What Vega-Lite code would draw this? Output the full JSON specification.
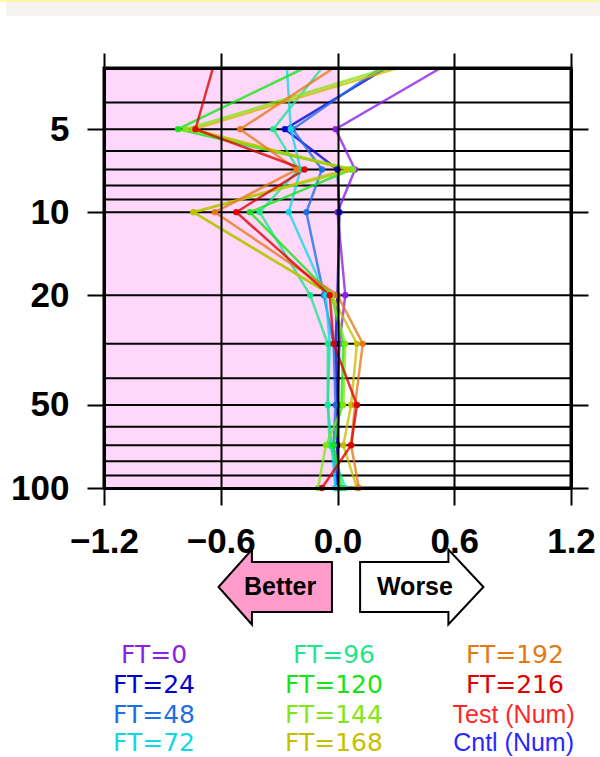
{
  "$schema": "https://vega.github.io/schema/vega-lite/v6.json",
  "width": 467,
  "height": 420,
  "autosize": {"type": "none"},
  "padding": {"left": 104, "top": 68, "right": 29, "bottom": 269},
  "background": "white",
  "config": {"view": {"stroke": "black", "strokeWidth": 3}},
  "resolve": {"axis": {"x": "independent", "y": "independent"}},
  "datasets": {
    "series": [
      {"ft": "FT=0", "p": 3, "v": 0.53}, {"ft": "FT=0", "p": 5, "v": -0.01}, {"ft": "FT=0", "p": 7, "v": 0.09}, {"ft": "FT=0", "p": 10, "v": 0.0}, {"ft": "FT=0", "p": 20, "v": 0.04}, {"ft": "FT=0", "p": 30, "v": 0.01}, {"ft": "FT=0", "p": 50, "v": 0.0}, {"ft": "FT=0", "p": 70, "v": 0.0}, {"ft": "FT=0", "p": 100, "v": 0.0},
      {"ft": "FT=24", "p": 3, "v": 0.25}, {"ft": "FT=24", "p": 5, "v": -0.27}, {"ft": "FT=24", "p": 7, "v": 0.0}, {"ft": "FT=24", "p": 10, "v": 0.01}, {"ft": "FT=24", "p": 20, "v": 0.0}, {"ft": "FT=24", "p": 30, "v": -0.01}, {"ft": "FT=24", "p": 50, "v": 0.0}, {"ft": "FT=24", "p": 70, "v": 0.0}, {"ft": "FT=24", "p": 100, "v": 0.0},
      {"ft": "FT=48", "p": 3, "v": 0.22}, {"ft": "FT=48", "p": 5, "v": -0.23}, {"ft": "FT=48", "p": 7, "v": -0.08}, {"ft": "FT=48", "p": 10, "v": -0.16}, {"ft": "FT=48", "p": 20, "v": -0.07}, {"ft": "FT=48", "p": 30, "v": -0.02}, {"ft": "FT=48", "p": 50, "v": -0.01}, {"ft": "FT=48", "p": 70, "v": -0.02}, {"ft": "FT=48", "p": 100, "v": -0.01},
      {"ft": "FT=72", "p": 3, "v": -0.26}, {"ft": "FT=72", "p": 5, "v": -0.24}, {"ft": "FT=72", "p": 7, "v": -0.19}, {"ft": "FT=72", "p": 10, "v": -0.25}, {"ft": "FT=72", "p": 20, "v": -0.06}, {"ft": "FT=72", "p": 30, "v": -0.04}, {"ft": "FT=72", "p": 50, "v": -0.05}, {"ft": "FT=72", "p": 70, "v": -0.03}, {"ft": "FT=72", "p": 100, "v": -0.01},
      {"ft": "FT=96", "p": 3, "v": -0.08}, {"ft": "FT=96", "p": 5, "v": -0.33}, {"ft": "FT=96", "p": 7, "v": -0.2}, {"ft": "FT=96", "p": 10, "v": -0.4}, {"ft": "FT=96", "p": 20, "v": -0.14}, {"ft": "FT=96", "p": 30, "v": -0.05}, {"ft": "FT=96", "p": 50, "v": -0.05}, {"ft": "FT=96", "p": 70, "v": -0.04}, {"ft": "FT=96", "p": 100, "v": 0.04},
      {"ft": "FT=120", "p": 3, "v": -0.17}, {"ft": "FT=120", "p": 5, "v": -0.82}, {"ft": "FT=120", "p": 7, "v": 0.07}, {"ft": "FT=120", "p": 10, "v": -0.45}, {"ft": "FT=120", "p": 20, "v": -0.03}, {"ft": "FT=120", "p": 30, "v": 0.03}, {"ft": "FT=120", "p": 50, "v": 0.02}, {"ft": "FT=120", "p": 70, "v": -0.02}, {"ft": "FT=120", "p": 100, "v": 0.02},
      {"ft": "FT=144", "p": 3, "v": 0.26}, {"ft": "FT=144", "p": 5, "v": -0.78}, {"ft": "FT=144", "p": 7, "v": 0.08}, {"ft": "FT=144", "p": 10, "v": -0.74}, {"ft": "FT=144", "p": 20, "v": -0.03}, {"ft": "FT=144", "p": 30, "v": 0.04}, {"ft": "FT=144", "p": 50, "v": 0.03}, {"ft": "FT=144", "p": 70, "v": -0.06}, {"ft": "FT=144", "p": 100, "v": -0.1},
      {"ft": "FT=168", "p": 3, "v": 0.31}, {"ft": "FT=168", "p": 5, "v": -0.74}, {"ft": "FT=168", "p": 7, "v": 0.05}, {"ft": "FT=168", "p": 10, "v": -0.74}, {"ft": "FT=168", "p": 20, "v": -0.03}, {"ft": "FT=168", "p": 30, "v": 0.1}, {"ft": "FT=168", "p": 50, "v": 0.07}, {"ft": "FT=168", "p": 70, "v": 0.03}, {"ft": "FT=168", "p": 100, "v": 0.1},
      {"ft": "FT=192", "p": 3, "v": -0.02}, {"ft": "FT=192", "p": 5, "v": -0.5}, {"ft": "FT=192", "p": 7, "v": -0.21}, {"ft": "FT=192", "p": 10, "v": -0.63}, {"ft": "FT=192", "p": 20, "v": 0.0}, {"ft": "FT=192", "p": 30, "v": 0.13}, {"ft": "FT=192", "p": 50, "v": 0.09}, {"ft": "FT=192", "p": 70, "v": 0.07}, {"ft": "FT=192", "p": 100, "v": 0.11},
      {"ft": "FT=216", "p": 3, "v": -0.64}, {"ft": "FT=216", "p": 5, "v": -0.73}, {"ft": "FT=216", "p": 7, "v": -0.17}, {"ft": "FT=216", "p": 10, "v": -0.52}, {"ft": "FT=216", "p": 20, "v": -0.04}, {"ft": "FT=216", "p": 30, "v": -0.02}, {"ft": "FT=216", "p": 50, "v": 0.1}, {"ft": "FT=216", "p": 70, "v": 0.07}, {"ft": "FT=216", "p": 100, "v": -0.08}
    ],
    "levels": [
      {"p": 3}, {"p": 4}, {"p": 5}, {"p": 6}, {"p": 7}, {"p": 8}, {"p": 9}, {"p": 10}, {"p": 20}, {"p": 30}, {"p": 40}, {"p": 50}, {"p": 60}, {"p": 70}, {"p": 80}, {"p": 90}, {"p": 100}
    ],
    "legendFT": [
      {"label": "FT=0", "v": -0.943, "p": 403}, {"label": "FT=24", "v": -0.943, "p": 518}, {"label": "FT=48", "v": -0.943, "p": 665}, {"label": "FT=72", "v": -0.943, "p": 841},
      {"label": "FT=96", "v": -0.018, "p": 403}, {"label": "FT=120", "v": -0.018, "p": 518}, {"label": "FT=144", "v": -0.018, "p": 665}, {"label": "FT=168", "v": -0.018, "p": 841},
      {"label": "FT=192", "v": 0.912, "p": 403}, {"label": "FT=216", "v": 0.912, "p": 518}
    ],
    "legendNum": [
      {"label": "Test (Num)", "v": 0.905, "p": 665}, {"label": "Cntl (Num)", "v": 0.905, "p": 841}
    ]
  },
  "layer": [
    {
      "data": {"values": [{"band": "page"}]},
      "mark": {"type": "rect", "color": "#f4f3ef"},
      "encoding": {
        "x": {"datum": -1.704, "type": "quantitative", "scale": {"domain": [-1.2, 1.2], "nice": false, "zero": false}, "axis": null},
        "x2": {"datum": 1.4},
        "y": {"datum": 1.944, "type": "quantitative", "scale": {"type": "log", "domain": [3, 100], "reverse": true, "nice": false}, "axis": null},
        "y2": {"datum": 1.73}
      }
    },
    {
      "data": {"values": [{"band": "edge"}]},
      "mark": {"type": "rect", "color": "#fdf8a8"},
      "encoding": {
        "x": {"datum": -1.8, "type": "quantitative", "scale": {"domain": [-1.2, 1.2], "nice": false, "zero": false}, "axis": null},
        "x2": {"datum": 1.4},
        "y": {"datum": 1.73, "type": "quantitative", "scale": {"type": "log", "domain": [3, 100], "reverse": true, "nice": false}, "axis": null},
        "y2": {"datum": 1.69}
      }
    },
    {
      "data": {"values": [{"region": "better"}]},
      "mark": {"type": "rect", "color": "#ffd7fa"},
      "encoding": {
        "x": {"datum": -1.2, "type": "quantitative", "scale": {"domain": [-1.2, 1.2], "nice": false, "zero": false}, "axis": null},
        "x2": {"datum": 0},
        "y": {"datum": 3, "type": "quantitative", "scale": {"type": "log", "domain": [3, 100], "reverse": true, "nice": false}, "axis": null},
        "y2": {"datum": 100}
      }
    },
    {
      "data": {"name": "levels"},
      "mark": {"type": "rule", "color": "black", "strokeWidth": 2},
      "encoding": {
        "y": {"field": "p", "type": "quantitative", "scale": {"type": "log", "domain": [3, 100], "reverse": true, "nice": false}, "axis": null}
      }
    },
    {
      "data": {"name": "series"},
      "mark": {"type": "line", "strokeWidth": 2.5, "opacity": 0.78},
      "encoding": {
        "x": {"field": "v", "type": "quantitative", "scale": {"domain": [-1.2, 1.2], "nice": false, "zero": false},
          "axis": {"orient": "bottom", "values": [-1.2, -0.6, 0, 0.6, 1.2], "format": ".1f", "title": null, "grid": true, "gridColor": "black", "gridWidth": 2, "gridOpacity": 1, "domainColor": "black", "domainWidth": 3, "tickColor": "black", "tickWidth": 2, "tickSize": 17, "labelPadding": 19, "labelFont": "Liberation Sans", "labelFontSize": 35, "labelFontWeight": "bold", "labelColor": "black", "labelFlush": false, "labelOverlap": false, "zindex": 1}},
        "y": {"field": "p", "type": "quantitative", "scale": {"type": "log", "domain": [3, 100], "reverse": true, "nice": false},
          "axis": {"orient": "left", "values": [5, 10, 20, 50, 100], "format": "d", "title": null, "grid": false, "domainColor": "black", "domainWidth": 3, "tickColor": "black", "tickWidth": 2, "tickSize": 17, "labelPadding": 18, "labelFont": "Liberation Sans", "labelFontSize": 35, "labelFontWeight": "bold", "labelColor": "black", "labelOverlap": false, "zindex": 1}},
        "color": {"field": "ft", "type": "nominal", "legend": null,
          "scale": {"domain": ["FT=0", "FT=24", "FT=48", "FT=72", "FT=96", "FT=120", "FT=144", "FT=168", "FT=192", "FT=216", "Test (Num)", "Cntl (Num)"],
            "range": ["#8c1ee6", "#0000d2", "#1e6ee6", "#14d7e6", "#1ee68c", "#14e614", "#82e614", "#c8be00", "#e67814", "#dc0000", "#ff2828", "#2828ff"]}},
        "order": {"field": "p", "type": "quantitative"}
      }
    },
    {
      "data": {"name": "series"},
      "transform": [{"filter": "datum.p > 3"}],
      "mark": {"type": "circle", "size": 40, "opacity": 0.95},
      "encoding": {
        "x": {"field": "v", "type": "quantitative", "scale": {"domain": [-1.2, 1.2], "nice": false, "zero": false},
          "axis": {"orient": "top", "values": [-1.2, -0.6, 0, 0.6, 1.2], "labels": false, "title": null, "grid": false, "domainColor": "black", "domainWidth": 3, "tickColor": "black", "tickWidth": 2, "tickSize": 15, "zindex": 1}},
        "y": {"field": "p", "type": "quantitative", "scale": {"type": "log", "domain": [3, 100], "reverse": true, "nice": false},
          "axis": {"orient": "right", "values": [5, 10, 20, 50, 100], "labels": false, "title": null, "grid": false, "domainColor": "black", "domainWidth": 3, "tickColor": "black", "tickWidth": 2, "tickSize": 17, "zindex": 1}},
        "color": {"field": "ft", "type": "nominal", "legend": null}
      }
    },
    {
      "data": {"values": [{"label": "Better", "v": -0.32, "p": 228.6}]},
      "mark": {"type": "point", "shape": "M -1 0 L -0.411 -0.661 L -0.411 -0.441 L 1 -0.441 L 1 0.441 L -0.411 0.441 L -0.411 0.661 Z", "size": 12860, "filled": true, "fill": "#ff9ccc", "fillOpacity": 1, "stroke": "black", "strokeWidth": 2, "opacity": 1},
      "encoding": {
        "x": {"field": "v", "type": "quantitative", "scale": {"domain": [-1.2, 1.2], "nice": false, "zero": false}, "axis": null},
        "y": {"field": "p", "type": "quantitative", "scale": {"type": "log", "domain": [3, 100], "reverse": true, "nice": false}, "axis": null}
      }
    },
    {
      "data": {"values": [{"label": "Worse", "v": 0.433, "p": 228.6}]},
      "mark": {"type": "point", "shape": "M 1 0 L 0.432 -0.608 L 0.432 -0.406 L -1 -0.406 L -1 0.406 L 0.432 0.406 L 0.432 0.608 Z", "size": 15203, "filled": true, "fill": "white", "fillOpacity": 1, "stroke": "black", "strokeWidth": 2, "opacity": 1},
      "encoding": {
        "x": {"field": "v", "type": "quantitative", "scale": {"domain": [-1.2, 1.2], "nice": false, "zero": false}, "axis": null},
        "y": {"field": "p", "type": "quantitative", "scale": {"type": "log", "domain": [3, 100], "reverse": true, "nice": false}, "axis": null}
      }
    },
    {
      "data": {"values": [{"label": "Better", "v": -0.295, "p": 228.6}, {"label": "Worse", "v": 0.398, "p": 228.6}]},
      "mark": {"type": "text", "font": "Liberation Sans", "fontSize": 25, "fontWeight": "bold", "color": "black", "align": "center", "baseline": "middle"},
      "encoding": {
        "x": {"field": "v", "type": "quantitative", "scale": {"domain": [-1.2, 1.2], "nice": false, "zero": false}, "axis": null},
        "y": {"field": "p", "type": "quantitative", "scale": {"type": "log", "domain": [3, 100], "reverse": true, "nice": false}, "axis": null},
        "text": {"field": "label"}
      }
    },
    {
      "data": {"name": "legendFT"},
      "mark": {"type": "text", "font": "DejaVu Sans", "fontSize": 25, "align": "center", "baseline": "middle"},
      "encoding": {
        "x": {"field": "v", "type": "quantitative", "scale": {"domain": [-1.2, 1.2], "nice": false, "zero": false}, "axis": null},
        "y": {"field": "p", "type": "quantitative", "scale": {"type": "log", "domain": [3, 100], "reverse": true, "nice": false}, "axis": null},
        "text": {"field": "label"},
        "color": {"field": "label", "type": "nominal", "legend": null}
      }
    },
    {
      "data": {"name": "legendNum"},
      "mark": {"type": "text", "font": "Liberation Sans", "fontSize": 25, "align": "center", "baseline": "middle"},
      "encoding": {
        "x": {"field": "v", "type": "quantitative", "scale": {"domain": [-1.2, 1.2], "nice": false, "zero": false}, "axis": null},
        "y": {"field": "p", "type": "quantitative", "scale": {"type": "log", "domain": [3, 100], "reverse": true, "nice": false}, "axis": null},
        "text": {"field": "label"},
        "color": {"field": "label", "type": "nominal", "legend": null}
      }
    }
  ]
}
